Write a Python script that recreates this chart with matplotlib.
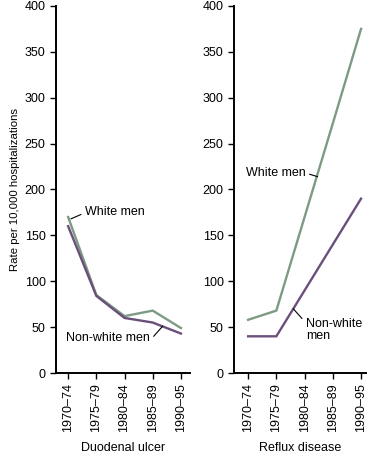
import matplotlib
matplotlib.use("Agg")
import matplotlib.pyplot as plt

periods = ["1970–74", "1975–79", "1980–84", "1985–89", "1990–95"]
yticks = [0, 50, 100, 150, 200, 250, 300, 350, 400]

# Duodenal ulcer
du_white = [170, 85, 62, 68, 49]
du_nonwhite = [160, 84, 60, 55, 43]

# Reflux disease
rd_white = [58, 68, 170, 272, 375]
rd_nonwhite = [40, 40, 90, 140, 190]

green = "#7d9a84"
purple = "#6a4f7b"

plt.rcParams["font.family"] = ["Liberation Sans", "DejaVu Sans"]
plt.rcParams["font.size"] = 9

fig = plt.figure(figsize=(3.67, 4.54), dpi=100)
ax1 = fig.add_axes([0.1526, 0.1784, 0.365, 0.8084])
ax2 = fig.add_axes([0.6376, 0.1784, 0.36, 0.8084])

x = range(len(periods))


def style(ax, xmin, xmax, xlabel):
    ax.set_ylim(0, 400)
    ax.set_xlim(xmin, xmax)
    ax.set_yticks(yticks)
    ax.set_xticks(list(x))
    ax.set_xticklabels(periods, rotation=90)
    for s in ["top", "right"]:
        ax.spines[s].set_visible(False)
    for s in ["left", "bottom"]:
        ax.spines[s].set_linewidth(1.4)
    ax.tick_params(direction="out", length=4.5, width=1, pad=3)
    ax.set_xlabel(xlabel, labelpad=7, fontsize=9)


ax1.plot(x, du_white, color=green, lw=1.7)
ax1.plot(x, du_nonwhite, color=purple, lw=1.7)
style(ax1, -0.43, 4.32, "Duodenal ulcer")
ax1.set_ylabel("Rate per 10,000 hospitalizations", labelpad=3, fontsize=8.2)

ax1.annotate("White men", xy=(0.1, 168), xytext=(0.6, 176), ha="left", va="center",
             arrowprops=dict(arrowstyle="-", lw=0.8, color="black", shrinkA=1, shrinkB=0, relpos=(0, 0.4)))
ax1.annotate("Non-white men", xy=(3.35, 51), xytext=(2.9, 38), ha="right", va="center",
             arrowprops=dict(arrowstyle="-", lw=0.8, color="black", shrinkA=1, shrinkB=0, relpos=(1, 0.3)))

ax2.plot(x, rd_white, color=green, lw=1.7)
ax2.plot(x, rd_nonwhite, color=purple, lw=1.7)
style(ax2, -0.5, 4.18, "Reflux disease")

ax2.annotate("White men", xy=(2.46, 214), xytext=(2.03, 218), ha="right", va="center",
             arrowprops=dict(arrowstyle="-", lw=0.8, color="black", shrinkA=1, shrinkB=0, relpos=(1, 0.5)))
ax2.annotate("Non-white\nmen", xy=(1.6, 70), xytext=(2.04, 47), ha="left", va="center",
             linespacing=1.0,
             arrowprops=dict(arrowstyle="-", lw=0.8, color="black", shrinkA=1, shrinkB=0, relpos=(0, 0.8)))

fig.savefig("out.png", dpi=100)
